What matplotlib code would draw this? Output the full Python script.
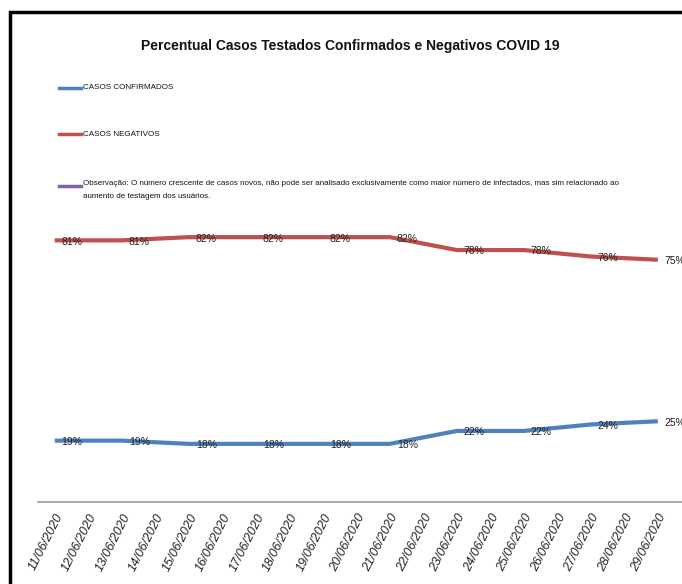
import matplotlib
matplotlib.use("Agg")
import matplotlib.pyplot as plt
from matplotlib.lines import Line2D
from matplotlib.patches import Rectangle

plt.rcParams["font.family"] = ["Liberation Sans", "DejaVu Sans"]

# Dates on the category axis
dates = ["11/06/2020", "12/06/2020", "13/06/2020", "14/06/2020", "15/06/2020",
         "16/06/2020", "17/06/2020", "18/06/2020", "19/06/2020", "20/06/2020",
         "21/06/2020", "22/06/2020", "23/06/2020", "24/06/2020", "25/06/2020",
         "26/06/2020", "27/06/2020", "28/06/2020", "29/06/2020"]

# Report dates (every other day) and percentages
report_dates = ["11/06/2020", "13/06/2020", "15/06/2020", "17/06/2020", "19/06/2020",
                "21/06/2020", "23/06/2020", "25/06/2020", "27/06/2020", "29/06/2020"]
confirmados = [19, 19, 18, 18, 18, 18, 22, 22, 24, 25]
negativos = [81, 81, 82, 82, 82, 82, 78, 78, 76, 75]

title = "Percentual Casos Testados Confirmados e Negativos COVID 19"
legend_labels = ["CASOS CONFIRMADOS", "CASOS NEGATIVOS",
                 "Observação: O número crescente de casos novos, não pode ser analisado exclusivamente como maior número de infectados, mas sim relacionado ao\naumento de testagem dos usuários."]

BLUE = "#4F81BD"
RED = "#C0504D"
PURPLE = "#8064A2"

W, H = 682, 584
fig = plt.figure(figsize=(W / 100, H / 100), dpi=100)
fig.patch.set_facecolor("white")

def fx(px):
    return px / W

def fy(py):
    return 1 - py / H

ax = fig.add_axes([fx(38), fy(502), 1 - fx(38), fy(179) - fy(502)])
ax.set_xlim(-0.5, 18.72)
ax.set_ylim(0, 100)

xpos = [dates.index(d) for d in report_dates]
ax.plot(xpos, confirmados, color=BLUE, lw=3.0, solid_capstyle="butt", zorder=3)
ax.plot(xpos, negativos, color=RED, lw=3.0, solid_capstyle="butt", zorder=3)

for series in (confirmados, negativos):
    for x, v in zip(xpos, series):
        ax.annotate(f"{v}%", (x, v), xytext=(5, -1), textcoords="offset points",
                    ha="left", va="center", fontsize=7.5, color="#222222",
                    zorder=4, annotation_clip=False)

for s in ["top", "right", "left"]:
    ax.spines[s].set_visible(False)
ax.spines["bottom"].set_color("#9a9a9a")
ax.spines["bottom"].set_linewidth(1.2)
ax.set_yticks([])
ax.set_xticks(range(len(dates)))
ax.set_xticklabels(dates, rotation=63, ha="right", va="top",
                   rotation_mode="anchor", fontsize=9, style="italic",
                   color="#222222")
ax.tick_params(axis="x", length=0, pad=7)

fig.text(fx(350), fy(46), title, ha="center", va="center",
         fontsize=10, fontweight="bold", color="#111111")

# Legend entries
leg_colors = [BLUE, RED, PURPLE]
leg_y = [88, 134, 186]
for c, yy, lab in zip(leg_colors, leg_y, legend_labels):
    fig.add_artist(Line2D([fx(59), fx(81)], [fy(yy), fy(yy)], color=c, lw=2.5,
                          transform=fig.transFigure))
    multi = "\n" in lab
    fig.text(fx(83), fy(yy - 6) if multi else fy(yy), lab, ha="left",
             va="top" if multi else "center",
             fontsize=5.8, color="#111111", linespacing=2.1,
             transform=fig.transFigure)

# Outer frame
fig.add_artist(Rectangle((fx(10), fy(H + 10)), 1.2, fy(12) - fy(H + 10),
                         fill=False, edgecolor="black", lw=2.5,
                         transform=fig.transFigure))

fig.savefig("out.png", dpi=100, facecolor="white")
